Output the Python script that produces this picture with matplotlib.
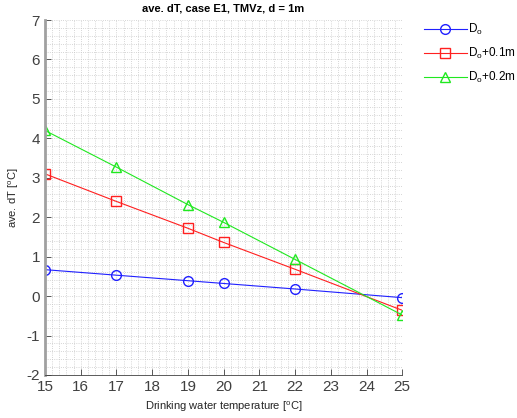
import matplotlib
matplotlib.use("Agg")
import matplotlib.pyplot as plt
from matplotlib.ticker import MultipleLocator

temps = [15, 17, 19, 20, 22, 25]
d0 = [0.67, 0.53, 0.39, 0.32, 0.18, -0.04]
d01 = [3.10, 2.40, 1.72, 1.36, 0.68, -0.36]
d02 = [4.20, 3.27, 2.32, 1.87, 0.93, -0.48]
labels = [r"D$_\mathregular{o}$", r"D$_\mathregular{o}$+0.1m", r"D$_\mathregular{o}$+0.2m"]

plt.rcParams['font.family'] = ['Liberation Sans', 'DejaVu Sans']
plt.rcParams['axes.unicode_minus'] = False
fig = plt.figure(figsize=(5.17, 4.18), dpi=100)
ax = fig.add_axes([0.087, 0.103, 0.691, 0.849])

ax.plot(temps, d0, color='#2020ff', marker='o', mfc='none', ms=7, lw=0.8, label=labels[0])
ax.plot(temps, d01, color='#ff2020', marker='s', mfc='none', ms=6.5, lw=0.8, label=labels[1])
ax.plot(temps, d02, color='#20e820', marker='^', mfc='none', ms=7.5, lw=0.8, label=labels[2])

ax.set_xlim(15, 25)
ax.set_ylim(-2, 7)
ax.xaxis.set_major_locator(MultipleLocator(1))
ax.yaxis.set_major_locator(MultipleLocator(1))
ax.xaxis.set_minor_locator(MultipleLocator(0.2))
ax.yaxis.set_minor_locator(MultipleLocator(0.2))
ax.grid(which='both', color='#c8c8c8', linestyle=':', linewidth=0.6)
ax.tick_params(which='major', direction='in', length=4, labelsize=11, colors='#404040', width=0.6)
ax.tick_params(which='minor', length=0)
for s in ['top', 'right']:
    ax.spines[s].set_visible(False)
ax.spines['bottom'].set_color('#404040')
ax.spines['bottom'].set_linewidth(0.6)
ax.spines['left'].set_color('#a0a0a0')
ax.spines['left'].set_linewidth(2)
ax.set_axisbelow(True)

ax.set_title("ave. dT, case E1, TMVz, d = 1m", fontsize=8, fontweight='bold')
ax.set_xlabel(r"Drinking water temperature [$^\mathregular{o}$C]", fontsize=8, color='#262626')
ax.set_ylabel(r"ave. dT [$^\mathregular{o}$C]", fontsize=8, color='#262626')

ax.legend(loc='upper left', bbox_to_anchor=(424/517, 1 - 22/418), bbox_transform=fig.transFigure,
          frameon=False, fontsize=8.5, handlelength=3.6, borderpad=0, borderaxespad=0,
          handletextpad=0.15, labelspacing=0.75)

fig.savefig("out.png", dpi=100)
